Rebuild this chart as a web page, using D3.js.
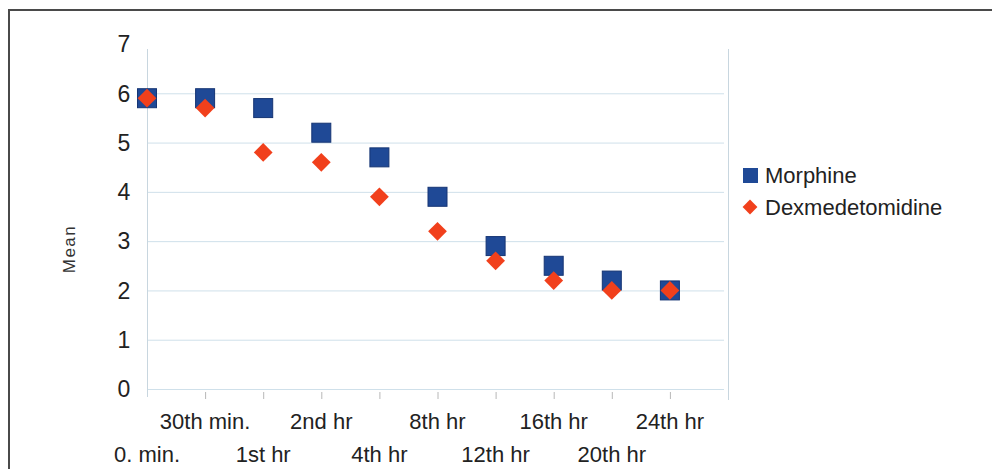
<!DOCTYPE html>
<html>
<head>
<meta charset="utf-8">
<script src="https://cdn.jsdelivr.net/npm/d3@7"></script>
<style>
  html, body { margin: 0; padding: 0; background: #fff; }
  svg { display: block; font-family: "Liberation Sans", Arial, sans-serif; }
</style>
</head>
<body>
<svg id="chart" width="992" height="469"></svg>
<script>
// Time points after dosing
const categories = ["0. min.", "30th min.", "1st hr", "2nd hr", "4th hr", "8th hr",
                    "12th hr", "16th hr", "20th hr", "24th hr"];
// Mean scores per group
const morphine = [5.9, 5.9, 5.7, 5.2, 4.7, 3.9, 2.9, 2.5, 2.2, 2.0];
const dexmedetomidine = [5.9, 5.7, 4.8, 4.6, 3.9, 3.2, 2.6, 2.2, 2.0, 2.0];
const seriesNames = ["Morphine", "Dexmedetomidine"];
const yTicks = [0, 1, 2, 3, 4, 5, 6, 7];
const yLabel = "Mean";

const svg = d3.select("#chart");
const textColor = "#222";
const gridColor = "#cfe0ea";
const squareColor = "#1f4996";
const diamondColor = "#f1401c";

// Outer frame (open on the right and bottom)
svg.append("path")
  .attr("d", "M9,470 L9,10 L993,10")
  .attr("fill", "none").attr("stroke", "#4a4a4a").attr("stroke-width", 2);

const x = d3.scaleLinear().domain([0, categories.length]).range([147, 728]);
const y = d3.scaleLinear().domain([0, 7]).range([389, 44]);

// Horizontal gridlines
svg.append("g").selectAll("line").data(yTicks.filter(t => t < 7)).join("line")
  .attr("x1", x(0)).attr("x2", x(categories.length) - 4)
  .attr("y1", d => y(d) + 0.5).attr("y2", d => y(d) + 0.5)
  .attr("stroke", gridColor).attr("stroke-width", 1);

// Left axis and right plot edge
svg.append("line").attr("x1", x(0) + 0.5).attr("x2", x(0) + 0.5)
  .attr("y1", y(7) + 5).attr("y2", y(0) + 8).attr("stroke", "#c8d6df");
svg.append("line").attr("x1", x(categories.length) + 0.5).attr("x2", x(categories.length) + 0.5)
  .attr("y1", y(7) + 5).attr("y2", y(0) + 11).attr("stroke", "#c8d6df");

// Small ticks under the category positions
svg.append("g").selectAll("line").data(d3.range(1, categories.length)).join("line")
  .attr("x1", i => x(i) + 0.5).attr("x2", i => x(i) + 0.5)
  .attr("y1", y(0) + 3).attr("y2", y(0) + 10)
  .attr("stroke", "#b8b8b8");

// Y tick labels
svg.append("g").selectAll("text").data(yTicks).join("text")
  .attr("x", 124).attr("y", d => y(d))
  .attr("dy", "0.36em").attr("text-anchor", "middle")
  .attr("font-size", 23).attr("fill", textColor)
  .text(d => d);

// X labels, staggered on two rows
svg.append("g").selectAll("text").data(categories).join("text")
  .attr("x", (d, i) => x(i)).attr("y", (d, i) => i % 2 === 0 ? 462 : 429)
  .attr("text-anchor", "middle")
  .attr("font-size", 22).attr("fill", textColor)
  .text(d => d);

// Y axis title
svg.append("text")
  .attr("transform", "translate(75,249) rotate(-90)")
  .attr("text-anchor", "middle")
  .attr("font-size", 17).attr("letter-spacing", 1.5)
  .attr("fill", "#333")
  .text(yLabel);

// Morphine squares
const sq = 19;
svg.append("g").selectAll("rect").data(morphine).join("rect")
  .attr("x", (d, i) => x(i) - sq / 2).attr("y", d => y(d) - sq / 2)
  .attr("width", sq).attr("height", sq)
  .attr("fill", squareColor).attr("stroke", "#163574").attr("stroke-width", 1);

// Dexmedetomidine diamonds
const diamond = d3.symbol().type(d3.symbolDiamond2).size(225);
svg.append("g").selectAll("path").data(dexmedetomidine).join("path")
  .attr("transform", (d, i) => `translate(${x(i)},${y(d)})`)
  .attr("d", diamond)
  .attr("fill", diamondColor);

// Legend
const legend = svg.append("g");
legend.append("rect").attr("x", 743).attr("y", 168).attr("width", 15).attr("height", 15)
  .attr("fill", squareColor);
legend.append("path").attr("transform", "translate(750,207)")
  .attr("d", d3.symbol().type(d3.symbolDiamond2).size(140))
  .attr("fill", diamondColor);
legend.selectAll("text").data(seriesNames).join("text")
  .attr("x", 765).attr("y", (d, i) => 183 + i * 32)
  .attr("font-size", 22).attr("fill", textColor)
  .text(d => d);
</script>
</body>
</html>
